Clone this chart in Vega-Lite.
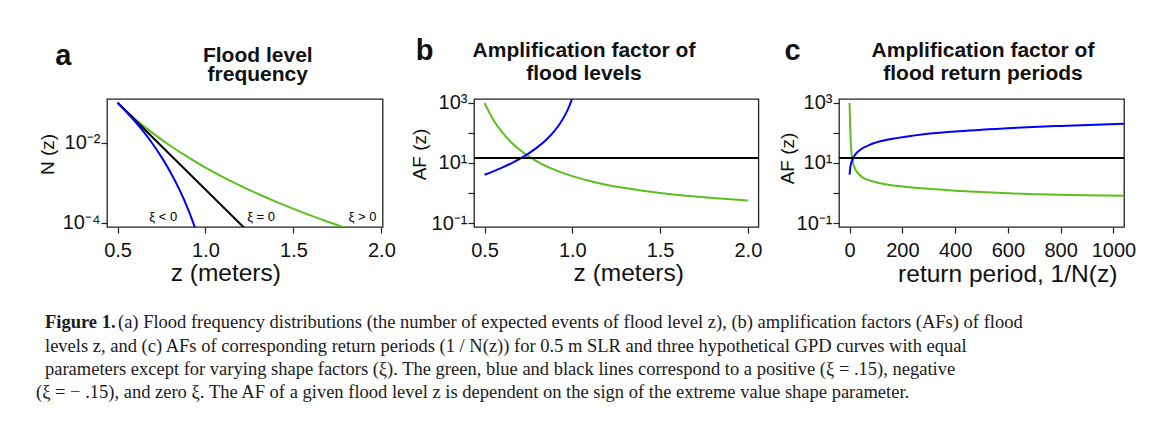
{
  "$schema": "https://vega.github.io/schema/vega-lite/v6.json",
  "padding": {"left": 8, "top": 36, "right": 0, "bottom": 0},
  "background": "white",
  "spacing": 0,
  "bounds": "flush",
  "datasets": {
    "a_lines": [
      {"series": "green", "z": 0.5, "n": 0.1},
      {"series": "green", "z": 0.6, "n": 0.03938},
      {"series": "green", "z": 0.7, "n": 0.01739},
      {"series": "green", "z": 0.8, "n": 0.0084},
      {"series": "green", "z": 0.9, "n": 0.004356},
      {"series": "green", "z": 1.0, "n": 0.002397},
      {"series": "green", "z": 1.1, "n": 0.001386},
      {"series": "green", "z": 1.2, "n": 0.000835},
      {"series": "green", "z": 1.3, "n": 0.0005215},
      {"series": "green", "z": 1.4, "n": 0.0003359},
      {"series": "green", "z": 1.5, "n": 0.0002224},
      {"series": "green", "z": 1.6, "n": 0.0001508},
      {"series": "green", "z": 1.7, "n": 0.0001044},
      {"series": "green", "z": 1.8, "n": 0.0000738},
      {"series": "green", "z": 1.9, "n": 0.000053},
      {"series": "black", "z": 0.5, "n": 0.1},
      {"series": "black", "z": 1.3, "n": 0.00003354},
      {"series": "blue", "z": 0.5, "n": 0.1},
      {"series": "blue", "z": 0.55, "n": 0.05947},
      {"series": "blue", "z": 0.6, "n": 0.03384},
      {"series": "blue", "z": 0.65, "n": 0.01828},
      {"series": "blue", "z": 0.7, "n": 0.00928},
      {"series": "blue", "z": 0.75, "n": 0.004356},
      {"series": "blue", "z": 0.8, "n": 0.001858},
      {"series": "blue", "z": 0.85, "n": 0.000699},
      {"series": "blue", "z": 0.9, "n": 0.0002224},
      {"series": "blue", "z": 0.92, "n": 0.0001322},
      {"series": "blue", "z": 0.94, "n": 0.0000752},
      {"series": "blue", "z": 0.96, "n": 0.0000407}
    ],
    "a_labels": [
      {"label": "ξ < 0", "z": 0.76, "n": 0.000112},
      {"label": "ξ = 0", "z": 1.316, "n": 0.000112},
      {"label": "ξ  > 0", "z": 1.893, "n": 0.000112}
    ],
    "b_green": [
      {"z": 0.5, "af": 1000}, {"z": 0.55, "af": 277}, {"z": 0.6, "af": 106},
      {"z": 0.65, "af": 50.1}, {"z": 0.7, "af": 27.5}, {"z": 0.75, "af": 16.9},
      {"z": 0.8, "af": 11.2}, {"z": 0.9, "af": 5.91}, {"z": 1.0, "af": 3.65},
      {"z": 1.1, "af": 2.51}, {"z": 1.2, "af": 1.86}, {"z": 1.3, "af": 1.46},
      {"z": 1.4, "af": 1.19}, {"z": 1.5, "af": 1.0}, {"z": 1.6, "af": 0.862},
      {"z": 1.7, "af": 0.759}, {"z": 1.8, "af": 0.678}, {"z": 1.9, "af": 0.614},
      {"z": 2.0, "af": 0.562}
    ],
    "b_blue": [
      {"z": 0.5, "af": 4.07}, {"z": 0.55, "af": 5.27}, {"z": 0.6, "af": 7.0},
      {"z": 0.65, "af": 9.59}, {"z": 0.7, "af": 13.7}, {"z": 0.75, "af": 20.6},
      {"z": 0.8, "af": 33.1}, {"z": 0.85, "af": 58.7}, {"z": 0.9, "af": 121},
      {"z": 0.93, "af": 208}, {"z": 0.96, "af": 409}, {"z": 0.98, "af": 719},
      {"z": 1.0, "af": 1455}
    ],
    "c_blue": [
      {"rp": 0, "af": 4.07}, {"rp": 3, "af": 7.23}, {"rp": 8, "af": 11.1},
      {"rp": 18, "af": 17.2}, {"rp": 38, "af": 26.5}, {"rp": 78, "af": 40.9},
      {"rp": 148, "af": 60.5}, {"rp": 248, "af": 83.3}, {"rp": 398, "af": 112},
      {"rp": 598, "af": 144}, {"rp": 798, "af": 172}, {"rp": 1040, "af": 203}
    ],
    "c_green": [
      {"rp": 0, "af": 1000}, {"rp": 2, "af": 200}, {"rp": 4, "af": 63},
      {"rp": 7, "af": 22.4}, {"rp": 10, "af": 14.1}, {"rp": 15, "af": 8.9},
      {"rp": 20, "af": 6.6}, {"rp": 30, "af": 4.8}, {"rp": 50, "af": 3.3},
      {"rp": 80, "af": 2.57}, {"rp": 120, "af": 2.09}, {"rp": 200, "af": 1.66},
      {"rp": 300, "af": 1.38}, {"rp": 400, "af": 1.2}, {"rp": 500, "af": 1.07},
      {"rp": 600, "af": 0.98}, {"rp": 700, "af": 0.91}, {"rp": 800, "af": 0.87},
      {"rp": 900, "af": 0.84}, {"rp": 1040, "af": 0.81}
    ],
    "black": [{"af": 14.7}]
  },
  "vconcat": [
    {
      "spacing": 0,
      "bounds": "flush",
      "hconcat": [
        {"width": 98.7, "height": 128, "view": {"stroke": null}, "data": {"values": []}, "mark": "point"},
        {
          "width": 275.6, "height": 128,
          "title": {"text": "a", "anchor": "start", "frame": "group", "fontSize": 29, "fontWeight": "bold", "dx": -51.7, "dy": 49, "offset": 0, "baseline": "alphabetic"},
          "layer": [
            {
              "data": {"name": "a_lines"},
              "mark": {"type": "line", "clip": true, "strokeWidth": 2, "interpolate": "monotone"},
              "encoding": {
                "x": {"field": "z", "type": "quantitative", "scale": {"domain": [0.44, 2.007], "nice": false, "zero": false},
                      "axis": {"values": [0.5, 1, 1.5, 2], "format": ".1f", "title": "z (meters)", "titleX": 118.3, "titleY": 53, "titleAlign": "center", "titleBaseline": "alphabetic"}},
                "y": {"field": "n", "type": "quantitative", "scale": {"type": "log", "domain": [0.0000781, 0.1237], "nice": false},
                      "axis": {"values": [0.01, 0.0001], "labelExpr": "datum.value > 0.001 ? '10⁻²' : '10⁻⁴'", "title": "N (z)", "titleFontSize": 19, "titleX": -59.2, "titleY": 55, "titleAngle": -90, "titleAlign": "center", "titleBaseline": "middle"}},
                "color": {"field": "series", "type": "nominal", "scale": {"domain": ["green", "black", "blue"], "range": ["#5cbf1f", "#000000", "#0000ff"]}, "legend": null}
              }
            },
            {
              "data": {"name": "a_labels"},
              "mark": {"type": "text", "fontSize": 13, "baseline": "alphabetic", "align": "center", "color": "black"},
              "encoding": {
                "x": {"field": "z", "type": "quantitative", "scale": {"domain": [0.44, 2.007], "nice": false, "zero": false},
                      "axis": {"orient": "top", "title": ["Flood level", "frequency"], "labels": false, "ticks": false, "domain": false, "titleX": 150.3, "titleY": -37.3, "titleFontSize": 21, "titleFontWeight": "bold", "titleLineHeight": 19, "titleAlign": "center", "titleBaseline": "alphabetic", "titleAngle": 0}},
                "y": {"field": "n", "type": "quantitative", "scale": {"type": "log", "domain": [0.0000781, 0.1237], "nice": false},
                      "axis": {"values": [0.01, 0.0001], "labelExpr": "datum.value > 0.001 ? '10⁻²' : '10⁻⁴'", "title": "N (z)", "titleFontSize": 19, "titleX": -59.2, "titleY": 55, "titleAngle": -90, "titleAlign": "center", "titleBaseline": "middle"}},
                "text": {"field": "label"}
              }
            }
          ],
          "resolve": {"axis": {"x": "independent"}}
        },
        {"width": 91, "height": 128, "view": {"stroke": null}, "data": {"values": []}, "mark": "point"},
        {
          "width": 284.4, "height": 128,
          "title": {"text": "b", "anchor": "start", "frame": "group", "fontSize": 29, "fontWeight": "bold", "dx": -58.3, "dy": 49, "offset": 0, "baseline": "alphabetic"},
          "layer": [
            {
              "data": {"name": "b_green"},
              "mark": {"type": "line", "clip": true, "strokeWidth": 2, "color": "#5cbf1f", "interpolate": "monotone"},
              "encoding": {
                "x": {"field": "z", "type": "quantitative", "scale": {"domain": [0.44, 2.06], "nice": false, "zero": false},
                      "axis": {"values": [0.5, 1, 1.5, 2], "format": ".1f", "title": "z (meters)", "titleX": 154.2, "titleY": 53, "titleAlign": "center", "titleBaseline": "alphabetic"}},
                "y": {"field": "af", "type": "quantitative", "scale": {"type": "log", "domain": [0.07362, 1358], "nice": false},
                      "axis": {"values": [0.1, 1, 10, 100, 1000], "labelExpr": "datum.value == 1000 ? '10³' : datum.value == 10 ? '10¹' : datum.value == 0.1 ? '10⁻¹' : ''", "title": "AF (z)", "titleFontSize": 19, "titleX": -55, "titleY": 55, "titleAngle": -90, "titleAlign": "center", "titleBaseline": "middle"}}
              }
            },
            {
              "data": {"name": "b_blue"},
              "mark": {"type": "line", "clip": true, "strokeWidth": 2, "color": "#0000ff", "interpolate": "monotone"},
              "encoding": {
                "x": {"field": "z", "type": "quantitative", "scale": {"domain": [0.44, 2.06], "nice": false, "zero": false},
                      "axis": {"orient": "top", "title": ["Amplification factor of", "flood levels"], "labels": false, "ticks": false, "domain": false, "titleX": 109.5, "titleY": -42.3, "titleFontSize": 21, "titleFontWeight": "bold", "titleLineHeight": 22.5, "titleAlign": "center", "titleBaseline": "alphabetic", "titleAngle": 0}},
                "y": {"field": "af", "type": "quantitative", "scale": {"type": "log", "domain": [0.07362, 1358], "nice": false},
                      "axis": {"values": [0.1, 1, 10, 100, 1000], "labelExpr": "datum.value == 1000 ? '10³' : datum.value == 10 ? '10¹' : datum.value == 0.1 ? '10⁻¹' : ''", "title": "AF (z)", "titleFontSize": 19, "titleX": -55, "titleY": 55, "titleAngle": -90, "titleAlign": "center", "titleBaseline": "middle"}}
              }
            },
            {
              "data": {"name": "black"},
              "mark": {"type": "rule", "color": "#000000", "strokeWidth": 2},
              "encoding": {
                "y": {"field": "af", "type": "quantitative", "scale": {"type": "log", "domain": [0.07362, 1358], "nice": false},
                      "axis": {"values": [0.1, 1, 10, 100, 1000], "labelExpr": "datum.value == 1000 ? '10³' : datum.value == 10 ? '10¹' : datum.value == 0.1 ? '10⁻¹' : ''", "title": "AF (z)", "titleFontSize": 19, "titleX": -55, "titleY": 55, "titleAngle": -90, "titleAlign": "center", "titleBaseline": "middle"}}
              }
            }
          ],
          "resolve": {"axis": {"x": "independent"}}
        },
        {"width": 79.6, "height": 128, "view": {"stroke": null}, "data": {"values": []}, "mark": "point"},
        {
          "width": 285, "height": 128,
          "title": {"text": "c", "anchor": "start", "frame": "group", "fontSize": 29, "fontWeight": "bold", "dx": -54.6, "dy": 49, "offset": 0, "baseline": "alphabetic"},
          "layer": [
            {
              "data": {"name": "c_green"},
              "mark": {"type": "line", "clip": true, "strokeWidth": 2, "color": "#5cbf1f", "interpolate": "monotone"},
              "encoding": {
                "x": {"field": "rp", "type": "quantitative", "scale": {"domain": [-40, 1040], "nice": false, "zero": false},
                      "axis": {"values": [0, 200, 400, 600, 800, 1000], "format": "d", "title": "return period, 1/N(z)", "titleX": 168.2, "titleY": 54, "titleAlign": "center", "titleBaseline": "alphabetic"}},
                "y": {"field": "af", "type": "quantitative", "scale": {"type": "log", "domain": [0.07362, 1358], "nice": false},
                      "axis": {"values": [0.1, 1, 10, 100, 1000], "labelExpr": "datum.value == 1000 ? '10³' : datum.value == 10 ? '10¹' : datum.value == 0.1 ? '10⁻¹' : ''", "title": "AF (z)", "titleFontSize": 19, "titleX": -51.8, "titleY": 59, "titleAngle": -90, "titleAlign": "center", "titleBaseline": "middle"}}
              }
            },
            {
              "data": {"name": "c_blue"},
              "mark": {"type": "line", "clip": true, "strokeWidth": 2, "color": "#0000ff", "interpolate": "monotone"},
              "encoding": {
                "x": {"field": "rp", "type": "quantitative", "scale": {"domain": [-40, 1040], "nice": false, "zero": false},
                      "axis": {"orient": "top", "title": ["Amplification factor of", "flood return periods"], "labels": false, "ticks": false, "domain": false, "titleX": 143.5, "titleY": -42.3, "titleFontSize": 21, "titleFontWeight": "bold", "titleLineHeight": 22.5, "titleAlign": "center", "titleBaseline": "alphabetic", "titleAngle": 0}},
                "y": {"field": "af", "type": "quantitative", "scale": {"type": "log", "domain": [0.07362, 1358], "nice": false},
                      "axis": {"values": [0.1, 1, 10, 100, 1000], "labelExpr": "datum.value == 1000 ? '10³' : datum.value == 10 ? '10¹' : datum.value == 0.1 ? '10⁻¹' : ''", "title": "AF (z)", "titleFontSize": 19, "titleX": -51.8, "titleY": 59, "titleAngle": -90, "titleAlign": "center", "titleBaseline": "middle"}}
              }
            },
            {
              "data": {"name": "black"},
              "mark": {"type": "rule", "color": "#000000", "strokeWidth": 2},
              "encoding": {
                "y": {"field": "af", "type": "quantitative", "scale": {"type": "log", "domain": [0.07362, 1358], "nice": false},
                      "axis": {"values": [0.1, 1, 10, 100, 1000], "labelExpr": "datum.value == 1000 ? '10³' : datum.value == 10 ? '10¹' : datum.value == 0.1 ? '10⁻¹' : ''", "title": "AF (z)", "titleFontSize": 19, "titleX": -51.8, "titleY": 59, "titleAngle": -90, "titleAlign": "center", "titleBaseline": "middle"}}
              }
            }
          ],
          "resolve": {"axis": {"x": "independent"}}
        }
      ]
    },
    {
      "width": 1157, "height": 325,
      "view": {"stroke": null},
      "layer": [
        {
          "data": {"values": [{"line": 1, "text": "Figure 1."}]},
          "mark": {"type": "text", "align": "left", "baseline": "alphabetic", "font": "Liberation Serif", "fontSize": 18.5, "fontWeight": "bold", "color": "#1a1a1a", "dx": 37},
          "encoding": {
            "x": {"datum": 0, "type": "quantitative", "scale": {"domain": [0, 1]}, "axis": null},
            "y": {"field": "line", "type": "quantitative", "scale": {"domain": [-8.828, 5.102], "reverse": true}, "axis": null},
            "text": {"field": "text"}
          }
        },
        {
          "data": {"values": [{"line": 1, "text": "(a) Flood frequency distributions (the number of expected events of flood level z), (b) amplification factors (AFs) of flood"}]},
          "mark": {"type": "text", "align": "left", "baseline": "alphabetic", "font": "Liberation Serif", "fontSize": 18.5, "color": "#1a1a1a", "dx": 110},
          "encoding": {
            "x": {"datum": 0, "type": "quantitative", "scale": {"domain": [0, 1]}, "axis": null},
            "y": {"field": "line", "type": "quantitative", "scale": {"domain": [-8.828, 5.102], "reverse": true}, "axis": null},
            "text": {"field": "text"}
          }
        },
        {
          "data": {"values": [
            {"line": 2, "text": "levels z, and (c) AFs of corresponding return periods (1 / N(z)) for 0.5 m SLR and three hypothetical GPD curves with equal"},
            {"line": 3, "text": "parameters except for varying shape factors (ξ). The green, blue and black lines correspond to a positive (ξ = .15), negative"}
          ]},
          "mark": {"type": "text", "align": "left", "baseline": "alphabetic", "font": "Liberation Serif", "fontSize": 18.5, "color": "#1a1a1a", "dx": 37},
          "encoding": {
            "x": {"datum": 0, "type": "quantitative", "scale": {"domain": [0, 1]}, "axis": null},
            "y": {"field": "line", "type": "quantitative", "scale": {"domain": [-8.828, 5.102], "reverse": true}, "axis": null},
            "text": {"field": "text"}
          }
        },
        {
          "data": {"values": [
            {"line": 4, "text": "(ξ = − .15), and zero ξ. The AF of a given flood level z is dependent on the sign of the extreme value shape parameter."}
          ]},
          "mark": {"type": "text", "align": "left", "baseline": "alphabetic", "font": "Liberation Serif", "fontSize": 18.5, "color": "#1a1a1a", "dx": 28},
          "encoding": {
            "x": {"datum": 0, "type": "quantitative", "scale": {"domain": [0, 1]}, "axis": null},
            "y": {"field": "line", "type": "quantitative", "scale": {"domain": [-8.828, 5.102], "reverse": true}, "axis": null},
            "text": {"field": "text"}
          }
        }
      ]
    }
  ],
  "config": {
    "font": "Liberation Sans",
    "view": {"stroke": "#222222", "strokeWidth": 1.3},
    "axis": {
      "labelFont": "Liberation Sans", "labelFontSize": 20, "labelColor": "#111111",
      "titleFont": "Liberation Sans", "titleFontSize": 24.5, "titleFontWeight": "normal", "titleColor": "#111111",
      "tickColor": "#222222", "tickSize": 6, "tickWidth": 1.2, "domain": false, "grid": false
    },
    "axisX": {"labelPadding": 7},
    "axisY": {"labelPadding": 1, "labelBaseline": "middle", "labelAngle": 0},
    "title": {"font": "Liberation Sans", "color": "#111111"}
  }
}
